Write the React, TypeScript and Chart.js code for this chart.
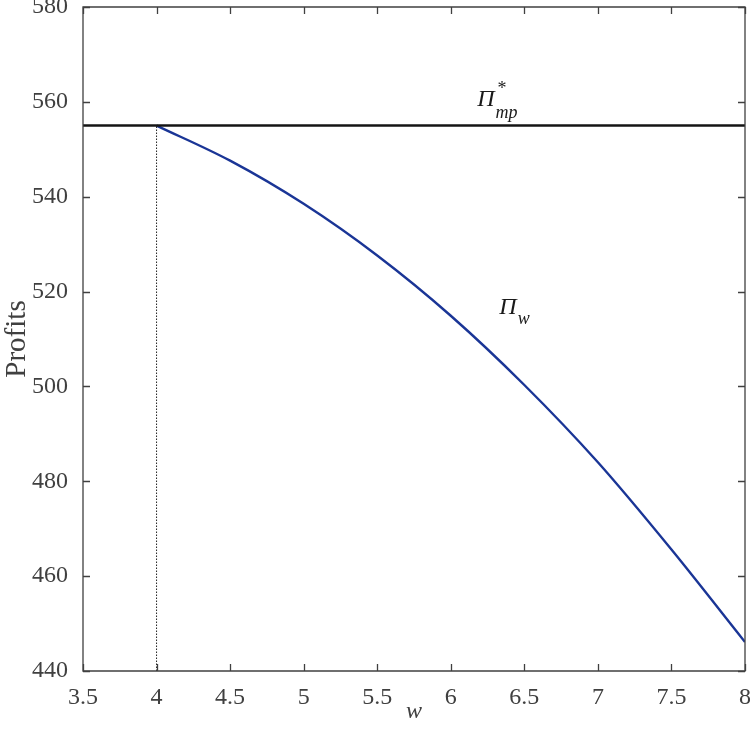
import React, { useEffect, useRef } from "react";
import { Chart, registerables } from "chart.js";

Chart.register(...registerables);

// ---- data ----
const wValues = [4, 4.5, 5, 5.5, 6, 6.5, 7, 7.5, 8];
const profitW = [555, 547.6, 538.5, 527.6, 514.9, 500.3, 484.0, 465.6, 446.1];
const monopolyProfit = 555;
const xMin = 3.5;
const xMax = 8;
const yMin = 440;
const yMax = 580;
const xStep = 0.5;
const yStep = 20;
const wStar = 4;

const FONT = "'Liberation Serif', 'Times New Roman', serif";
const AXIS = "#404040";

const boxTicksPlugin = {
  id: "boxTicks",
  afterDatasetsDraw(chart: any) {
    const { ctx, chartArea, scales } = chart;
    const { left, right, top, bottom } = chartArea;
    const xs = scales.x;
    const ys = scales.y;
    ctx.save();
    ctx.strokeStyle = AXIS;
    ctx.lineWidth = 1.3;
    ctx.beginPath();
    ctx.rect(left, top, right - left, bottom - top);
    ctx.stroke();
    const len = 7;
    ctx.beginPath();
    xs.ticks.forEach((t: any) => {
      const px = Math.round(xs.getPixelForValue(t.value)) + 0.5;
      ctx.moveTo(px, bottom);
      ctx.lineTo(px, bottom - len);
      ctx.moveTo(px, top);
      ctx.lineTo(px, top + len);
    });
    ys.ticks.forEach((t: any) => {
      const py = Math.round(ys.getPixelForValue(t.value)) + 0.5;
      ctx.moveTo(left, py);
      ctx.lineTo(left + len, py);
      ctx.moveTo(right, py);
      ctx.lineTo(right - len, py);
    });
    ctx.stroke();

    // annotations
    ctx.fillStyle = "#1a1a1a";
    ctx.textBaseline = "alphabetic";
    ctx.textAlign = "left";
    // Pi*_mp
    let px = xs.getPixelForValue(6.18);
    let py = ys.getPixelForValue(559.2);
    ctx.font = `italic 24px ${FONT}`;
    ctx.fillText("\u03A0", px, py);
    const piW = ctx.measureText("\u03A0").width;
    ctx.font = `18px ${FONT}`;
    ctx.fillText("*", px + piW + 3, py - 12);
    ctx.font = `italic 18px ${FONT}`;
    ctx.fillText("mp", px + piW + 1, py + 12);
    // Pi_w
    px = xs.getPixelForValue(6.33);
    py = ys.getPixelForValue(515.2);
    ctx.font = `italic 24px ${FONT}`;
    ctx.fillText("\u03A0", px, py);
    ctx.font = `italic 18px ${FONT}`;
    ctx.fillText("w", px + piW + 1, py + 10);
    ctx.restore();
  },
};

export default function App() {
  const ref = useRef<HTMLCanvasElement | null>(null);
  useEffect(() => {
    document.body.style.margin = "0";
    const canvas = ref.current;
    if (!canvas) return;
    const chart = new Chart(canvas, {
      type: "line",
      data: {
        datasets: [
          {
            label: "Pi_mp",
            data: [
              { x: xMin, y: monopolyProfit },
              { x: xMax, y: monopolyProfit },
            ],
            borderColor: "#141414",
            borderWidth: 2.6,
            pointRadius: 0,
          },
          {
            label: "w*",
            data: [
              { x: wStar, y: yMin },
              { x: wStar, y: monopolyProfit },
            ],
            borderColor: "#222222",
            borderWidth: 1,
            borderDash: [1.5, 1.5],
            pointRadius: 0,
          },
          {
            label: "Pi_w",
            data: wValues.map((w, i) => ({ x: w, y: profitW[i] })),
            borderColor: "#1a3596",
            borderWidth: 2.4,
            pointRadius: 0,
            cubicInterpolationMode: "monotone",
          },
        ],
      },
      options: {
        responsive: false,
        animation: false,
        layout: { padding: { top: 7, right: 5, left: 0, bottom: 0 } },
        plugins: { legend: { display: false }, tooltip: { enabled: false } },
        scales: {
          x: {
            type: "linear",
            min: xMin,
            max: xMax,
            grid: { display: false },
            border: { display: false },
            ticks: {
              stepSize: xStep,
              color: AXIS,
              font: { family: FONT, size: 24 },
              padding: 4,
              maxRotation: 0,
              callback: (v: any) => String(v),
            },
            title: {
              display: true,
              text: "w",
              color: AXIS,
              font: { family: FONT, size: 24, style: "italic" },
              padding: { top: 0, bottom: 12 },
            },
            afterFit(scale: any) {
              scale.height = 67;
              scale.paddingLeft = 0;
              scale.paddingRight = 0;
            },
          },
          y: {
            type: "linear",
            min: yMin,
            max: yMax,
            grid: { display: false },
            border: { display: false },
            ticks: {
              stepSize: yStep,
              color: AXIS,
              font: { family: FONT, size: 24 },
              padding: 7,
              callback: (v: any) => String(v),
            },
            title: {
              display: true,
              text: "Profits",
              color: AXIS,
              font: { family: FONT, size: 29 },
              padding: { top: 0, bottom: 0 },
            },
            afterFit(scale: any) {
              scale.width = 83;
              scale.paddingTop = 0;
              scale.paddingBottom = 0;
            },
          },
        },
      },
      plugins: [boxTicksPlugin],
    } as any);
    return () => chart.destroy();
  }, []);
  return (
    <div style={{ position: "absolute", left: 0, top: 0, width: 750, height: 738, background: "#fff" }}>
      <canvas ref={ref} width={750} height={738} />
    </div>
  );
}
